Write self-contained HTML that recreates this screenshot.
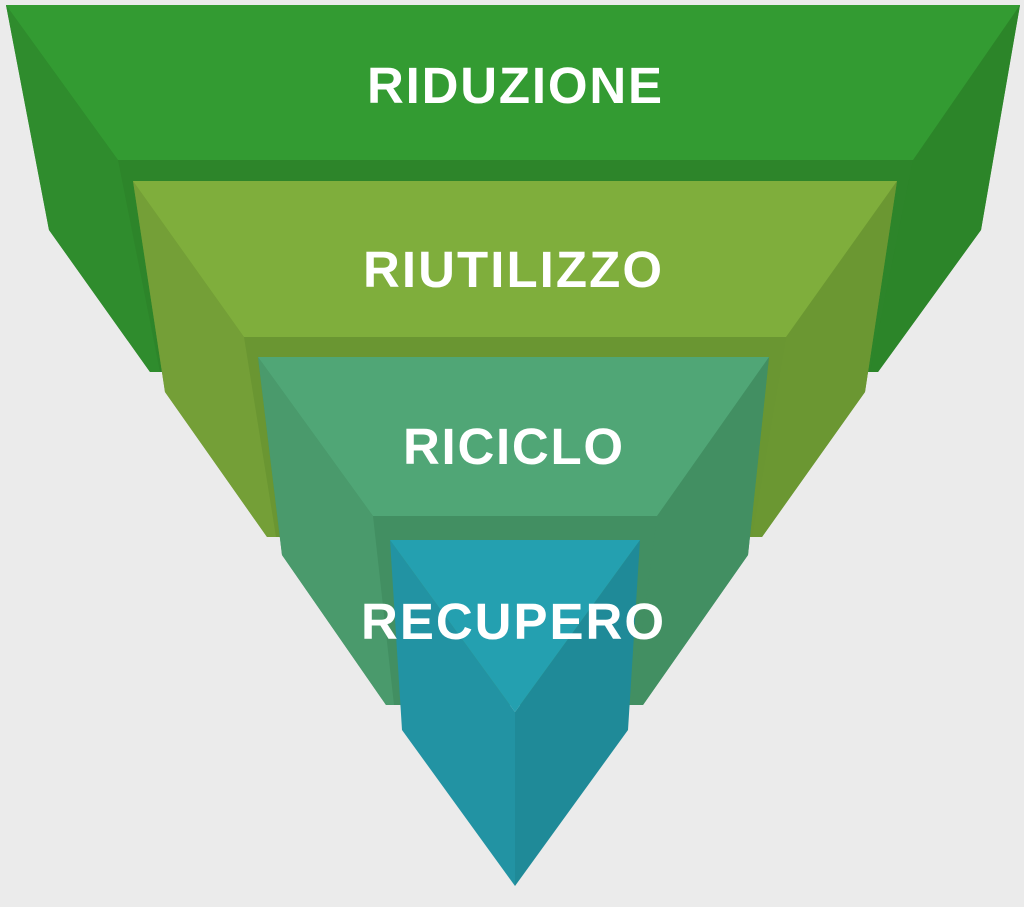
<!DOCTYPE html>
<html><head><style>
html,body{margin:0;padding:0;background:#ebebeb;}
svg{display:block}
text{font-family:"Liberation Sans",sans-serif;font-weight:bold;fill:#fff;text-anchor:middle;}
</style></head><body>
<svg width="1024" height="907" viewBox="0 0 1024 907">
<rect width="1024" height="907" fill="#ebebeb"/>
<!-- tier1 -->
<polygon points="6,5 1020,5 981,230 878,372 150,372 49,230" fill="#2d852a"/>
<polygon points="6,5 118,160 160,372 150,372 49,230" fill="#2f8c2d"/>
<polygon points="1020,5 913,160 870,372 878,372 981,230" fill="#2c8529"/>
<polygon points="6,5 1020,5 913,160 118,160" fill="#339b32"/>
<!-- tier2 -->
<polygon points="133,181 897,181 865,392 762,537 267,537 165,392" fill="#6a9632"/>
<polygon points="133,181 244,337 276,537 267,537 165,392" fill="#749f37"/>
<polygon points="897,181 786,337 752,537 762,537 865,392" fill="#6b9732"/>
<polygon points="133,181 897,181 786,337 244,337" fill="#7fae3c"/>
<!-- tier3 -->
<polygon points="258,357 769,357 748,555 643,705 386,705 282,555" fill="#428f62"/>
<polygon points="258,357 373,516 394,705 386,705 282,555" fill="#4a9a6c"/>
<polygon points="769,357 657,516 632,705 643,705 748,555" fill="#428f62"/>
<polygon points="258,357 769,357 657,516 373,516" fill="#50a676"/>
<!-- tier4 -->
<polygon points="390,540 515,712 515,886 402,730" fill="#2293a3"/>
<polygon points="640,540 628,730 515,886 515,712" fill="#1f8a98"/>
<polygon points="390,540 640,540 515,712" fill="#24a0b0"/>
<text x="514.5" y="103" font-size="51" textLength="295" lengthAdjust="spacing">RIDUZIONE</text>
<text x="512.5" y="287" font-size="51" textLength="299" lengthAdjust="spacing">RIUTILIZZO</text>
<text x="513" y="464" font-size="51" textLength="220" lengthAdjust="spacing">RICICLO</text>
<text x="512.5" y="639" font-size="51" textLength="303" lengthAdjust="spacing">RECUPERO</text>
</svg>
</body></html>
